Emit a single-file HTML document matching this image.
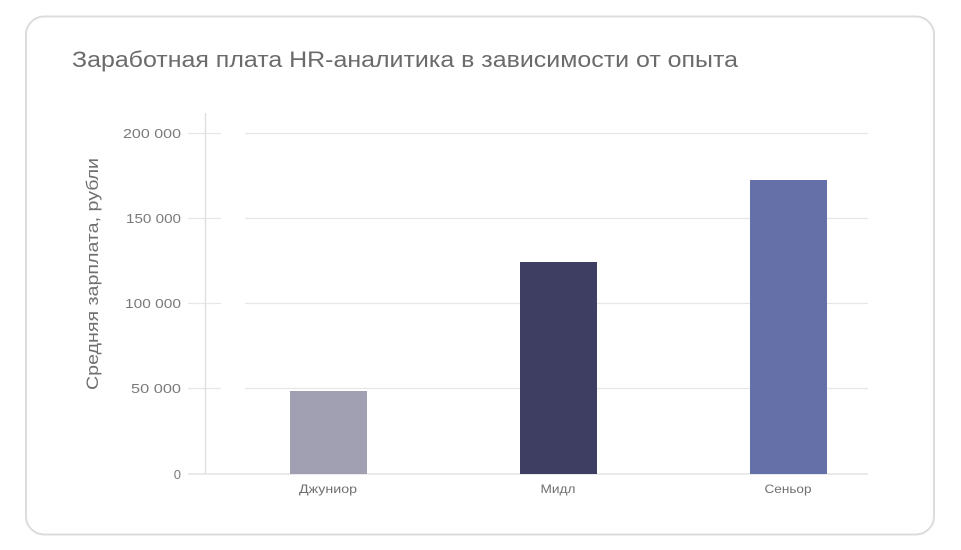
<!DOCTYPE html>
<html><head><meta charset="utf-8"><style>
html,body{margin:0;padding:0;background:#fff;width:961px;height:550px;overflow:hidden}
svg{display:block;font-family:"Liberation Sans","DejaVu Sans",sans-serif}
</style></head><body>
<svg width="961" height="550" viewBox="0 0 961 550">
<rect x="26" y="16.5" width="908" height="518" rx="18" fill="#fff" stroke="#dcdcdc" stroke-width="2"/>
<text x="72" y="67" font-size="22" fill="#6b6b6b" textLength="666" lengthAdjust="spacingAndGlyphs">Заработная плата HR-аналитика в зависимости от опыта</text>
<g stroke="#e6e6e8" stroke-width="1.3">
<line x1="188" y1="133.5" x2="221" y2="133.5"/><line x1="245" y1="133.5" x2="868" y2="133.5"/>
<line x1="188" y1="218.5" x2="221" y2="218.5"/><line x1="245" y1="218.5" x2="868" y2="218.5"/>
<line x1="188" y1="303.5" x2="221" y2="303.5"/><line x1="245" y1="303.5" x2="868" y2="303.5"/>
<line x1="188" y1="388.5" x2="221" y2="388.5"/><line x1="245" y1="388.5" x2="868" y2="388.5"/>
<line x1="188" y1="474" x2="868" y2="474" stroke="#dedee2"/>
<line x1="205.5" y1="113" x2="205.5" y2="474" stroke="#dedee2"/>
</g>
<g font-size="13" fill="#7a7a7a" text-anchor="end">
<text x="181" y="138" textLength="58" lengthAdjust="spacingAndGlyphs">200 000</text>
<text x="181" y="223" textLength="55" lengthAdjust="spacingAndGlyphs">150 000</text>
<text x="181" y="308" textLength="56" lengthAdjust="spacingAndGlyphs">100 000</text>
<text x="181" y="393" textLength="50" lengthAdjust="spacingAndGlyphs">50 000</text>
<text x="181" y="479">0</text>
</g>
<text transform="translate(98 274) rotate(-90)" font-size="17" fill="#707070" text-anchor="middle" textLength="232" lengthAdjust="spacingAndGlyphs">Средняя зарплата, рубли</text>
<rect x="290" y="391" width="77" height="83" fill="#a0a0b2"/>
<rect x="520" y="262" width="77" height="212" fill="#3e3e63"/>
<rect x="750" y="180" width="77" height="294" fill="#6670a8"/>
<g font-size="12" fill="#6f6f6f" text-anchor="middle">
<text x="328" y="493" textLength="58" lengthAdjust="spacingAndGlyphs">Джуниор</text>
<text x="558" y="493" textLength="35" lengthAdjust="spacingAndGlyphs">Мидл</text>
<text x="788" y="493" textLength="47" lengthAdjust="spacingAndGlyphs">Сеньор</text>
</g>
</svg>
</body></html>
